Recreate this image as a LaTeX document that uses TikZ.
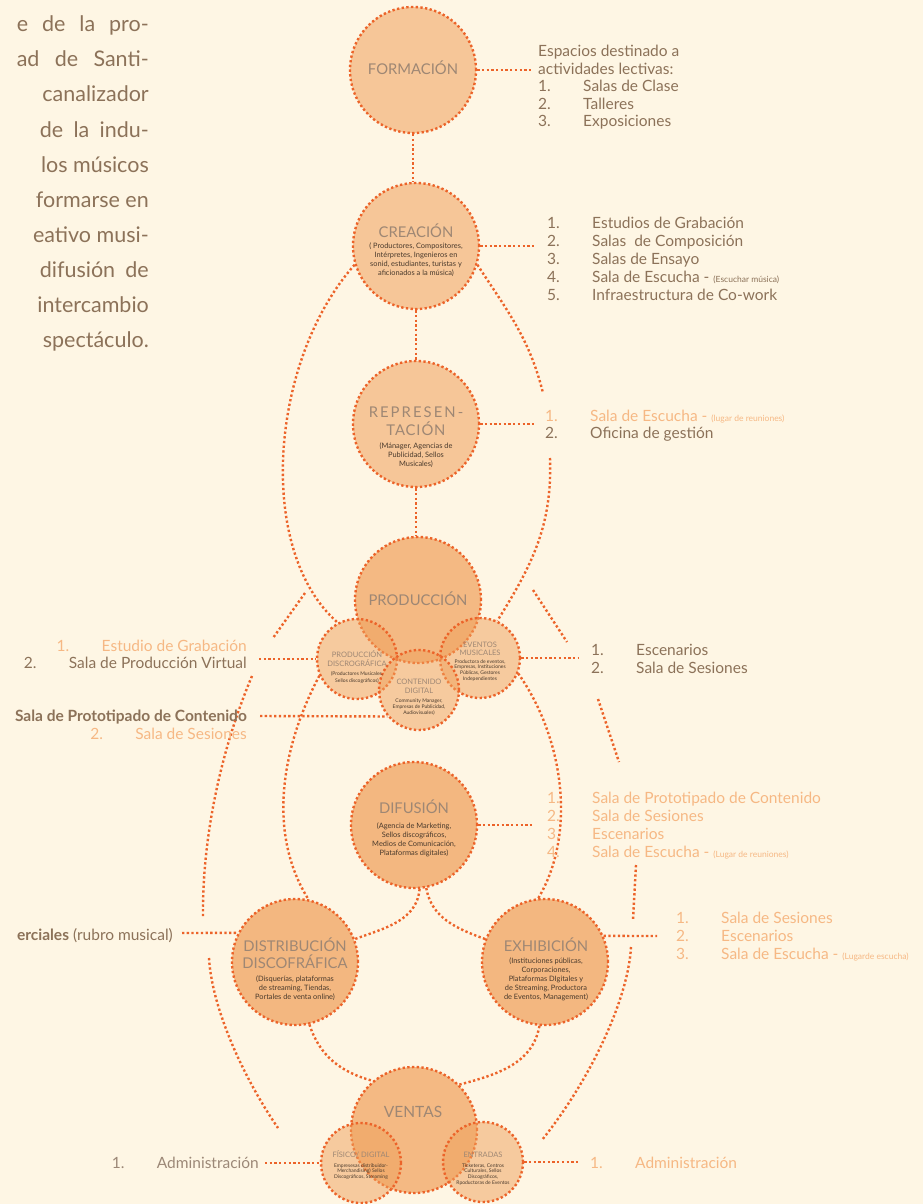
\documentclass[tikz,border=0pt]{standalone}
\usepackage{fontspec}
\setmainfont{Lato}
\definecolor{cbg}{HTML}{FEF6E4}
\definecolor{cbrown}{HTML}{8C7259}
\definecolor{cgrey}{HTML}{9C8877}
\definecolor{clight}{HTML}{F6B884}
\definecolor{ctitle}{HTML}{9E8774}
\definecolor{csub}{HTML}{4A3A2C}
\definecolor{cstroke}{HTML}{EC6329}
\definecolor{cfill}{HTML}{F0A05A}
\newlength\jlen
\newcommand\jline[2]{\settowidth\jlen{#2}\ifdim\jlen<#1\relax\makebox[#1][s]{#2}\else #2\fi}
\newcommand\num[1]{\makebox[45pt][l]{#1}}
\newcommand\paren[1]{{\fontsize{8.5}{10}\selectfont #1}}
\begin{document}
\begin{tikzpicture}[x=1pt,y=-1pt,
  conn/.style={draw=cstroke, line width=2.4pt, line cap=butt, dash pattern=on 2.3pt off 2.4pt},
  bigc/.style={circle, minimum size=126pt, inner sep=0pt, fill=cfill, fill opacity=0.72, conn},
  smallc/.style={circle, minimum size=80pt, inner sep=0pt, fill=cfill, fill opacity=0.5, conn},
  ttl/.style={anchor=base, inner sep=0pt, text=ctitle, font=\fontsize{14.8}{16}\selectfont},
  sttl/.style={anchor=base, inner sep=0pt, text=ctitle, font=\fontsize{7.5}{8}\selectfont},
  sub/.style={anchor=base, inner sep=0pt, text=csub, font=\fontsize{7.4}{8}\selectfont},
  ssub/.style={anchor=base, inner sep=0pt, text=csub, font=\fontsize{5}{6}\selectfont},
  lst/.style={anchor=base west, inner sep=0pt, text=cbrown, font=\fontsize{15.5}{18}\selectfont},
  lstr/.style={lst, anchor=base east},
  para/.style={anchor=base east, inner sep=0pt, text=cbrown, font=\fontsize{21.5}{24}\selectfont}]
\path[use as bounding box] (0,0) rectangle (923,1204);
\clip (0,0) rectangle (923,1204);
\fill[cbg] (0,0) rectangle (923,1204);

% ---------- left paragraph ----------
\foreach \t/\w [count=\i from 0] in {e de la pro-/132, ad de Santi-/132, canalizador/0, de la indu-/109, los músicos/106, formarse en/102, eativo musi-/71, difusión de/109, intercambio/0, spectáculo./0}
  {\node[para] (par\i) at (149, 32+35*\i) {\jline{\w pt}{\t}};}

% ---------- circles ----------
\node[bigc, fill opacity=0.55] (form) at (413,70) {};
\node[bigc, fill opacity=0.55] (crea) at (416,246) {};
\node[bigc, fill opacity=0.55] (repr) at (416,424) {};
\node[bigc, fill opacity=0.7] (prod) at (418,600) {};
\node[smallc] (pdis) at (357,659) {};
\node[smallc] (even) at (480,658) {};
\node[smallc] (cont) at (419,690) {};
\node[bigc] (difu) at (414,825) {};
\node[bigc] (dist) at (295,962) {};
\node[bigc] (exhi) at (545,962) {};
\node[bigc, fill opacity=0.7] (vent) at (414,1130) {};
\node[smallc] (fisi) at (361,1163) {};
\node[smallc] (entr) at (483,1162) {};

% ---------- free ends ----------
\coordinate (formL) at (533,70);
\coordinate (creaL) at (534,246);
\coordinate (reprL) at (535,424);
\coordinate (pdisL) at (259,659);
\coordinate (contL) at (260,716);
\coordinate (evenL) at (578,658);
\coordinate (difuL) at (533,825);
\coordinate (distL) at (182,933);
\coordinate (exhiL) at (657,936);
\coordinate (fisiL) at (265,1163);
\coordinate (entrL) at (580,1162);
\coordinate (rA1) at (543,393);
\coordinate (rA2) at (550,458);

% ---------- chain connectors ----------
\draw[conn] (form.south) -- (form.south |- crea.north);
\draw[conn] (crea.south) -- (repr.north);
\draw[conn] (repr.south) -- (repr.south |- prod.north);

% ---------- horizontal connectors ----------
\draw[conn] (form.east) -- (formL);
\draw[conn] (crea.east) -- (creaL);
\draw[conn] (repr.east) -- (reprL);
\draw[conn] (pdisL) -- (pdis.west);
\draw[conn] (contL) -- (cont.220);
\draw[conn] (even.east) -- (evenL);
\draw[conn] (difu.east) -- (difuL);
\draw[conn] (distL) -- (dist.153);
\draw[conn] (exhi.24) -- (exhiL);
\draw[conn] (fisiL) -- (fisi.west);
\draw[conn] (entr.east) -- (entrL);

% ---------- curved connectors ----------
\draw[conn] (crea.197) .. controls (270,360) and (255,550) .. (pdis.118);
\draw[conn] (crea.343) to[out=-57,in=104] (rA1);
\draw[conn] (rA2) to[out=-88,in=58] (even.65);
\draw[conn] (pdis.204) .. controls (280,750) and (268,835) .. (dist.78);
\draw[conn] (even.338) .. controls (565,740) and (576,835) .. (exhi.96);
\draw[conn] (difu.275) to[out=-95,in=20] (dist.21);
\draw[conn] (difu.281) to[out=-80,in=160] (exhi.159);
\draw[conn] (dist.283) to[out=-72,in=165] (vent.130);
\draw[conn] (exhi.265) to[out=-100,in=15] (vent.45);

% outer arcs (free)
\coordinate (oL1) at (305,593); \coordinate (oL2) at (273,638);
\coordinate (oL3) at (252,676); \coordinate (oL4) at (203,918);
\coordinate (oL5) at (209,958); \coordinate (oL6) at (278,1128);
\coordinate (oR1) at (533,590); \coordinate (oR2) at (567,642);
\coordinate (oR3) at (598,699); \coordinate (oR4) at (619,762);
\coordinate (oR5) at (636,865); \coordinate (oR6) at (633,920);
\coordinate (oR7) at (631,947); \coordinate (oR8) at (542,1140);
\draw[conn] (oL1) -- (oL2);
\draw[conn] (oL3) .. controls (220,752) and (202,840) .. (oL4);
\draw[conn] (oL5) .. controls (212,1010) and (245,1080) .. (oL6);
\draw[conn] (oR1) -- (oR2);
\draw[conn] (oR3) -- (oR4);
\draw[conn] (oR5) -- (oR6);
\draw[conn] (oR7) .. controls (628,1000) and (590,1080) .. (oR8);

% ---------- circle texts ----------
\node[ttl] (formT) at (413,75) {FORMACIÓN};
\node[ttl] (creaT) at (416,237) {CREACIÓN};
\foreach \t [count=\i from 0] in {{( Productores, Compositores,},{Intérpretes, Ingenieros en},{sonid, estudiantes, turistas y},{aficionados a la música)}}
  {\node[sub] (creaS\i) at (416,248+9*\i) {\t};}
\node[ttl, font=\fontsize{14.8}{16}\selectfont\addfontfeature{LetterSpace=14}] (reprT) at (416,417) {REPRESEN-};
\node[ttl, font=\fontsize{14.8}{16}\selectfont\addfontfeature{LetterSpace=6}] (reprT2) at (416,435) {TACIÓN};
\foreach \t [count=\i from 0] in {{(Mánager, Agencias de},{Publicidad, Sellos},{Musicales)}}
  {\node[sub] (reprS\i) at (416,448+9*\i) {\t};}
\node[ttl] (prodT) at (418,605) {PRODUCCIÓN};
\node[sttl] (pdisT) at (357,657) {PRODUCCIÓN};
\node[sttl] (pdisT2) at (357,666) {DISCROGRÁFICA};
\foreach \t [count=\i from 0] in {{(Productores Musicales,},{Sellos discográficos)}}
  {\node[ssub] (pdisS\i) at (357,675+7*\i) {\t};}
\node[sttl] (evenT) at (480,647) {EVENTOS};
\node[sttl] (evenT2) at (480,655) {MUSICALES};
\foreach \t [count=\i from 0] in {{Productora de eventos,},{Empresas, Instituciones},{Públicas, Gestores},{Independientes}}
  {\node[ssub] (evenS\i) at (480,663+5.9*\i) {\t};}
\node[sttl] (contT) at (419,684) {CONTENIDO};
\node[sttl] (contT2) at (419,693) {DIGITAL};
\foreach \t [count=\i from 0] in {{Community Manager,},{Empresas de Publicidad,},{Audiovisuales)}}
  {\node[ssub] (contS\i) at (419,702+6.3*\i) {\t};}
\node[ttl] (difuT) at (414,813) {DIFUSIÓN};
\foreach \t [count=\i from 0] in {{(Agencia de Marketing,},{Sellos discográficos,},{Medios de Comunicación,},{Plataformas digitales)}}
  {\node[sub] (difuS\i) at (414,828+9*\i) {\t};}
\node[ttl] (distT) at (295,951) {DISTRIBUCIÓN};
\node[ttl] (distT2) at (295,968) {DISCOFRÁFICA};
\foreach \t [count=\i from 0] in {{(Disquerías, plataformas},{de streaming, Tiendas,},{Portales de venta online)}}
  {\node[sub] (distS\i) at (295,981+9*\i) {\t};}
\node[ttl] (exhiT) at (546,951) {EXHIBICIÓN};
\foreach \t [count=\i from 0] in {{(Instituciones públicas,},{Corporaciones,},{Plataformas DIgitales y},{de Streaming, Productora},{de Eventos, Management)}}
  {\node[sub] (exhiS\i) at (546,963+9*\i) {\t};}
\node[ttl, font=\fontsize{15.5}{17}\selectfont] (ventT) at (413,1117) {VENTAS};
\node[sttl] (fisiT) at (361,1157) {FÍSICO/ DIGITAL};
\foreach \t [count=\i from 0] in {{Empresesas distribuidor-},{Merchandising) Sellos},{Discográficos, Streaming}}
  {\node[ssub] (fisiS\i) at (361,1167+5.7*\i) {\t};}
\node[sttl] (entrT) at (483,1157) {ENTRADAS};
\foreach \t [count=\i from 0] in {{Ticketeras, Centros},{Culturales, Sellos},{Discográficos,},{Rpoductoras de Eventos}}
  {\node[ssub] (entrS\i) at (483,1167+5.7*\i) {\t};}

% ---------- lists ----------
\node[lst] (fl0) at (538,57) {Espacios destinado a};
\node[lst] (fl1) at (538,74.5) {actividades lectivas:};
\node[lst] (fl2) at (538,92) {\num{1.}Salas de Clase};
\node[lst] (fl3) at (538,109.5) {\num{2.}Talleres};
\node[lst] (fl4) at (538,127) {\num{3.}Exposiciones};

\node[lst] (cl0) at (547,228) {\num{1.}Estudios de Grabación};
\node[lst] (cl1) at (547,246) {\num{2.}Salas\hspace{4pt} de Composición};
\node[lst] (cl2) at (547,264) {\num{3.}Salas de Ensayo};
\node[lst] (cl3) at (547,282) {\num{4.}Sala de Escucha - \paren{(Escuchar música)}};
\node[lst] (cl4) at (547,300) {\num{5.}Infraestructura de Co-work};

\node[lst, text=clight] (rl0) at (545,421) {\num{1.}Sala de Escucha - \paren{(lugar de reuniones)}};
\node[lst] (rl1) at (545,438) {\num{2.}Oficina de gestión};

\node[lstr, text=clight] (pl0) at (247,651) {\num{1.}Estudio de Grabación};
\node[lstr] (pl1) at (247,668) {\num{2.}Sala de Producción Virtual};
\node[lstr, font=\fontsize{15.5}{18}\selectfont\bfseries] (ctl0) at (247,721) {Sala de Prototipado de Contenido};
\node[lstr, text=clight] (ctl1) at (247,739) {\num{2.}Sala de Sesiones};

\node[lst] (el0) at (591,655) {\num{1.}Escenarios};
\node[lst] (el1) at (591,673) {\num{2.}Sala de Sesiones};

\node[lst, text=clight] (dl0) at (547,803) {\num{1.}Sala de Prototipado de Contenido};
\node[lst, text=clight] (dl1) at (547,821) {\num{2.}Sala de Sesiones};
\node[lst, text=clight] (dl2) at (547,839) {\num{3.}Escenarios};
\node[lst, text=clight] (dl3) at (547,857) {\num{4.}Sala de Escucha - \paren{(Lugar de reuniones)}};

\node[lstr] (dsl0) at (173,940) {{\bfseries erciales} (rubro musical)};

\node[lst, text=clight] (xl0) at (676,923) {\num{1.}Sala de Sesiones};
\node[lst, text=clight] (xl1) at (676,941) {\num{2.}Escenarios};
\node[lst, text=clight] (xl2) at (676,959) {\num{3.}Sala de Escucha - \paren{(Lugarde escucha)}};

\node[lstr, text=cgrey] (fl) at (259,1168) {\num{1.}Administración};
\node[lst, text=clight] (enl) at (590,1168) {\num{1.}Administración};
\end{tikzpicture}
\end{document}
